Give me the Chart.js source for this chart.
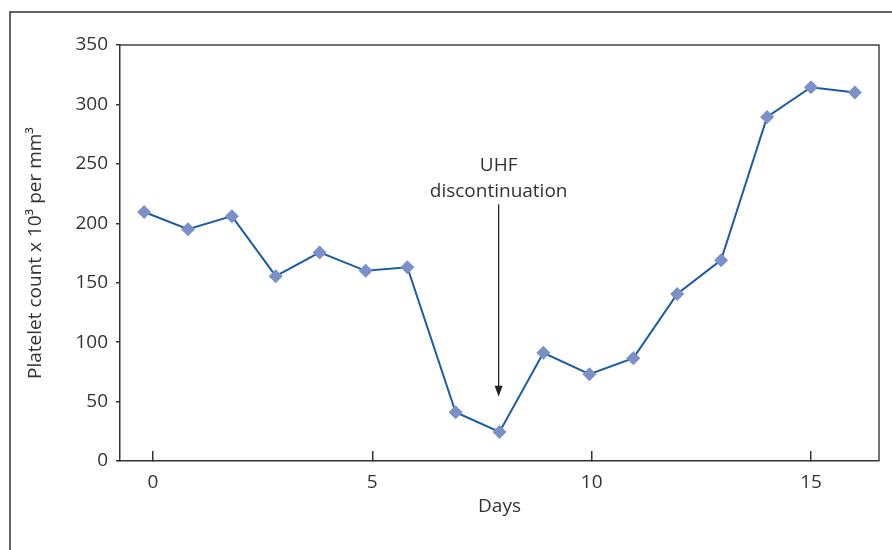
<!DOCTYPE html>
<html>
<head>
<meta charset="utf-8">
<script src="https://cdn.jsdelivr.net/npm/chart.js@4.4.1/dist/chart.umd.min.js"></script>
<style>
  body { margin: 0; background: #fff; }
  #wrap { width: 892px; height: 550px; position: relative; }
</style>
</head>
<body>
<div id="wrap"><canvas id="plateletChart"></canvas></div>
<script>
// Dados
const days = [-0.2, 0.8, 1.8, 2.8, 3.8, 4.85, 5.8, 6.9, 7.9, 8.9, 9.95, 10.95, 11.95, 12.95, 14, 15, 16];
const platelets = [209.5, 195, 206, 155.5, 175.5, 160, 163, 41, 24.5, 91, 73, 86.5, 140.5, 169, 289.5, 314.5, 310];
const xTicks = [0, 5, 10, 15];

// Anotação (seta de descontinuação)
const arrowDay = 7.88;
const arrowFrom = 216;
const arrowTo = 54;
const noteLines = ['UHF', 'discontinuation'];

const textColor = '#333333';
const fontFamily = '"Open Sans", "Noto Sans", sans-serif';

// Moldura externa e da área do gráfico
const framePlugin = {
    id: 'frames',
    beforeDraw(chart) {
        const ctx = chart.ctx;
        ctx.save();
        ctx.strokeStyle = '#333';
        ctx.lineWidth = 1.5;
        ctx.beginPath();
        ctx.moveTo(10, 550);
        ctx.lineTo(10, 12);
        ctx.lineTo(892, 12);
        ctx.stroke();
        ctx.restore();
    },
    afterDraw(chart) {
        const a = chart.chartArea;
        const ctx = chart.ctx;
        ctx.save();
        ctx.strokeStyle = '#444';
        ctx.lineWidth = 1.5;
        ctx.beginPath();
        ctx.moveTo(a.left, a.top);
        ctx.lineTo(a.right, a.top);
        ctx.lineTo(a.right, a.bottom);
        ctx.stroke();
        ctx.restore();
    }
};

// Seta e texto da anotação
const arrowPlugin = {
    id: 'arrow',
    afterDatasetsDraw(chart) {
        const x = chart.scales.x.getPixelForValue(arrowDay);
        const y1 = chart.scales.y.getPixelForValue(arrowFrom);
        const y2 = chart.scales.y.getPixelForValue(arrowTo);
        const ctx = chart.ctx;
        ctx.save();
        ctx.strokeStyle = '#222';
        ctx.fillStyle = '#222';
        ctx.lineWidth = 1.3;
        ctx.beginPath();
        ctx.moveTo(x, y1);
        ctx.lineTo(x, y2 - 10);
        ctx.stroke();
        ctx.beginPath();
        ctx.moveTo(x, y2);
        ctx.lineTo(x - 4, y2 - 11);
        ctx.lineTo(x + 4, y2 - 11);
        ctx.closePath();
        ctx.fill();

        ctx.fillStyle = textColor;
        ctx.font = '19px ' + fontFamily;
        ctx.textAlign = 'center';
        ctx.textBaseline = 'middle';
        ctx.fillText(noteLines[0], x, y1 - 39);
        ctx.fillText(noteLines[1], x, y1 - 13);
        ctx.restore();
    }
};

const ctx = document.getElementById('plateletChart').getContext('2d');
const chart = new Chart(ctx, {
    type: 'line',
    data: {
        datasets: [{
            label: 'Platelets',
            data: days.map((d, i) => ({ x: d, y: platelets[i] })),
            borderColor: '#1a5ca8',
            borderWidth: 2,
            tension: 0,
            pointStyle: 'rectRot',
            pointRadius: 7,
            pointBackgroundColor: '#7b8fc8',
            pointBorderWidth: 0
        }]
    },
    options: {
        responsive: true,
        maintainAspectRatio: false,
        animation: false,
        layout: { padding: { left: 0, top: 45, right: 13, bottom: 0 } },
        plugins: {
            legend: { display: false },
            tooltip: { enabled: false }
        },
        scales: {
            x: {
                type: 'linear',
                min: -0.75,
                max: 16.55,
                afterBuildTicks: scale => { scale.ticks = xTicks.map(v => ({ value: v })); },
                afterFit: scale => { scale.height = 89; },
                grid: { drawOnChartArea: false, tickLength: -10, color: '#333', lineWidth: 1.5 },
                border: { color: '#333', width: 1.5 },
                ticks: { color: textColor, font: { size: 19, family: fontFamily }, padding: 20 },
                title: {
                    display: true,
                    text: 'Days',
                    color: textColor,
                    font: { size: 19, family: fontFamily },
                    padding: { top: 0, bottom: 32 }
                }
            },
            y: {
                min: 0,
                max: 350,
                ticks: { stepSize: 50, color: textColor, font: { size: 19, family: fontFamily }, padding: 8 },
                afterFit: scale => { scale.width = 120; },
                grid: { drawOnChartArea: false, tickLength: 4, color: '#333', lineWidth: 1.5 },
                border: { color: '#333', width: 1.5 },
                title: {
                    display: true,
                    text: 'Platelet count x 10³ per mm³',
                    color: textColor,
                    font: { size: 19, family: fontFamily },
                    padding: { top: 24, bottom: 0 }
                }
            }
        }
    },
    plugins: [framePlugin, arrowPlugin]
});
</script>
</body>
</html>
